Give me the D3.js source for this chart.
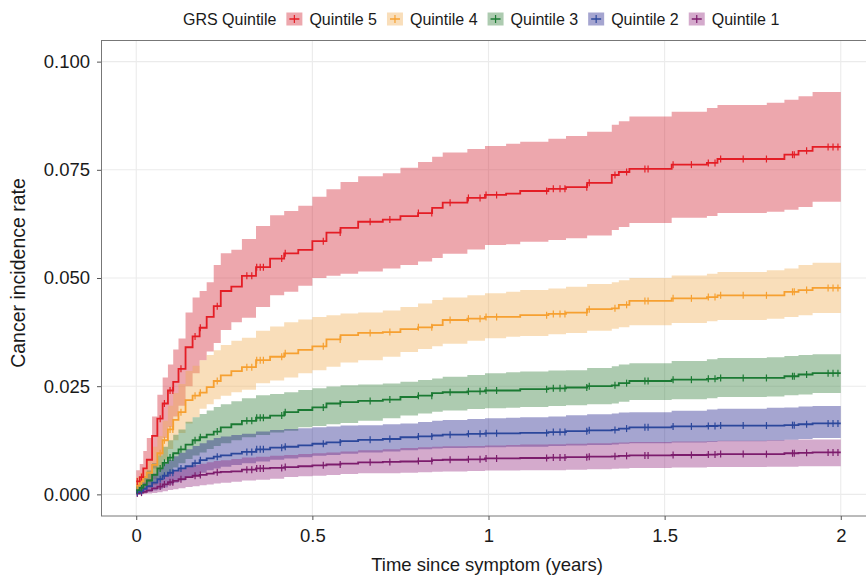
<!DOCTYPE html>
<html>
<head>
<meta charset="utf-8">
<script src="https://cdn.jsdelivr.net/npm/d3@7"></script>
<style>
  body { margin: 0; background: #fff; }
  text { font-family: "Liberation Sans", Arial, Helvetica, sans-serif; fill: #1a1a1a; }
</style>
</head>
<body>
<div id="chart"></div>
<script>
// Time grid shared by all quintiles (years since symptom)
const times = [0, 0.01, 0.02, 0.03, 0.045, 0.06, 0.075, 0.09, 0.105, 0.12, 0.14, 0.16, 0.18, 0.2, 0.22, 0.24, 0.27, 0.3, 0.34, 0.38, 0.42, 0.46, 0.5, 0.54, 0.58, 0.63, 0.7, 0.75, 0.8, 0.84, 0.87, 0.94, 0.99, 1.05, 1.09, 1.17, 1.22, 1.28, 1.35, 1.37, 1.4, 1.52, 1.62, 1.65, 1.79, 1.84, 1.88, 1.92, 2.0];

// Quintile 5
const q5Est = [0.003, 0.004, 0.006, 0.008, 0.0135, 0.0175, 0.021, 0.024, 0.026, 0.029, 0.034, 0.0365, 0.0385, 0.041, 0.0435, 0.047, 0.048, 0.0505, 0.0525, 0.0545, 0.0557, 0.0565, 0.0585, 0.0605, 0.0616, 0.063, 0.0635, 0.0643, 0.065, 0.0662, 0.0674, 0.0685, 0.0692, 0.0695, 0.0701, 0.0706, 0.071, 0.072, 0.0738, 0.0745, 0.0752, 0.0762, 0.0766, 0.0775, 0.0775, 0.0785, 0.0794, 0.0803, 0.0803];
const q5Upper = [0.0056, 0.007, 0.01, 0.013, 0.018, 0.023, 0.027, 0.03, 0.0335, 0.036, 0.042, 0.0455, 0.047, 0.049, 0.053, 0.0557, 0.0565, 0.059, 0.062, 0.0645, 0.0655, 0.0667, 0.0688, 0.0705, 0.0722, 0.0735, 0.0742, 0.0755, 0.0768, 0.078, 0.079, 0.0798, 0.0805, 0.081, 0.0815, 0.0822, 0.0828, 0.0838, 0.0854, 0.0862, 0.0873, 0.0884, 0.0893, 0.09, 0.0905, 0.0912, 0.092, 0.093, 0.093];
const q5Lower = [0.001, 0.0015, 0.002, 0.003, 0.006, 0.009, 0.013, 0.0155, 0.018, 0.0205, 0.025, 0.028, 0.031, 0.033, 0.035, 0.038, 0.0398, 0.0408, 0.0433, 0.046, 0.0468, 0.0482, 0.05, 0.0505, 0.051, 0.0515, 0.0522, 0.053, 0.0538, 0.0546, 0.0556, 0.0566, 0.0576, 0.0578, 0.0584, 0.0588, 0.0592, 0.0598, 0.0611, 0.0618, 0.0627, 0.0639, 0.0643, 0.065, 0.0653, 0.0658, 0.0664, 0.0676, 0.0676];

// Quintile 4
const q4Est = [0.002, 0.003, 0.004, 0.005, 0.0068, 0.0095, 0.0125, 0.015, 0.0172, 0.019, 0.0218, 0.0228, 0.0235, 0.0248, 0.0262, 0.0275, 0.0285, 0.0294, 0.031, 0.0318, 0.0326, 0.0334, 0.0342, 0.0358, 0.0368, 0.0373, 0.0375, 0.0382, 0.0386, 0.0391, 0.0403, 0.0406, 0.041, 0.041, 0.0414, 0.0417, 0.042, 0.0428, 0.043, 0.0438, 0.0447, 0.0453, 0.0456, 0.046, 0.046, 0.0468, 0.0472, 0.0477, 0.0477];
const q4Upper = [0.004, 0.005, 0.006, 0.008, 0.011, 0.0135, 0.017, 0.0205, 0.0234, 0.0255, 0.0285, 0.0297, 0.031, 0.0322, 0.0333, 0.0345, 0.0355, 0.0362, 0.0378, 0.0388, 0.0398, 0.0404, 0.041, 0.0414, 0.0418, 0.042, 0.0425, 0.0433, 0.0441, 0.0449, 0.0455, 0.046, 0.0465, 0.0468, 0.0472, 0.0476, 0.048, 0.0486, 0.049, 0.0495, 0.05, 0.0506, 0.051, 0.0514, 0.0518, 0.0522, 0.053, 0.0535, 0.0535];
const q4Lower = [0.0005, 0.001, 0.0015, 0.0025, 0.0035, 0.0055, 0.008, 0.0105, 0.0125, 0.0142, 0.0164, 0.0178, 0.0198, 0.0208, 0.022, 0.0228, 0.0236, 0.0242, 0.0257, 0.0263, 0.027, 0.028, 0.0287, 0.0295, 0.0305, 0.031, 0.0318, 0.0329, 0.0336, 0.0342, 0.0348, 0.0355, 0.0361, 0.0364, 0.0366, 0.037, 0.0373, 0.0378, 0.0383, 0.0386, 0.0391, 0.0396, 0.04, 0.0403, 0.0406, 0.041, 0.0414, 0.0419, 0.0419];

// Quintile 3
const q3Est = [0.001, 0.0015, 0.0022, 0.0032, 0.0045, 0.006, 0.0073, 0.0085, 0.0095, 0.0104, 0.0115, 0.0125, 0.0132, 0.0138, 0.0145, 0.0155, 0.0162, 0.017, 0.0177, 0.0182, 0.019, 0.0195, 0.0201, 0.021, 0.0213, 0.0216, 0.0219, 0.0225, 0.0228, 0.0234, 0.0236, 0.0238, 0.024, 0.024, 0.0243, 0.0245, 0.0247, 0.025, 0.0252, 0.0257, 0.0262, 0.0265, 0.0267, 0.0269, 0.0269, 0.0273, 0.0277, 0.028, 0.028];
const q3Upper = [0.0023, 0.003, 0.0042, 0.0055, 0.0072, 0.009, 0.011, 0.0125, 0.0138, 0.015, 0.0168, 0.0178, 0.0186, 0.0194, 0.0202, 0.0208, 0.0215, 0.0222, 0.0229, 0.0232, 0.0236, 0.0241, 0.0245, 0.0249, 0.0252, 0.0254, 0.0256, 0.026, 0.0264, 0.0268, 0.0272, 0.0276, 0.028, 0.0282, 0.0284, 0.0286, 0.0287, 0.0292, 0.0296, 0.03, 0.0303, 0.0308, 0.0312, 0.0315, 0.0317, 0.032, 0.0322, 0.0324, 0.0324];
const q3Lower = [0.0002, 0.0005, 0.001, 0.0015, 0.0022, 0.0032, 0.0042, 0.0052, 0.0062, 0.0072, 0.0082, 0.009, 0.0097, 0.0105, 0.0112, 0.0118, 0.0125, 0.0132, 0.0137, 0.0143, 0.0147, 0.0155, 0.0158, 0.0162, 0.0165, 0.017, 0.0176, 0.0182, 0.0187, 0.0191, 0.0194, 0.0197, 0.0199, 0.02, 0.0202, 0.0204, 0.0206, 0.0208, 0.021, 0.0214, 0.0218, 0.022, 0.0222, 0.0225, 0.0226, 0.0229, 0.0231, 0.0234, 0.0234];

// Quintile 2
const q2Est = [0.0005, 0.0008, 0.0013, 0.0019, 0.0027, 0.0035, 0.0043, 0.005, 0.0055, 0.006, 0.0065, 0.0072, 0.0079, 0.0083, 0.0087, 0.009, 0.0094, 0.0098, 0.0104, 0.0108, 0.011, 0.0113, 0.0117, 0.012, 0.0123, 0.0126, 0.0128, 0.0132, 0.0134, 0.0136, 0.0138, 0.014, 0.0141, 0.0141, 0.0142, 0.0144, 0.0146, 0.0148, 0.0149, 0.0152, 0.0155, 0.0157, 0.0158, 0.0159, 0.0159, 0.016, 0.0162, 0.0164, 0.0164];
const q2Upper = [0.0012, 0.0018, 0.0027, 0.0035, 0.0048, 0.006, 0.007, 0.008, 0.0088, 0.0096, 0.0104, 0.0112, 0.0118, 0.0125, 0.013, 0.0134, 0.0137, 0.014, 0.0145, 0.0149, 0.0151, 0.0153, 0.0155, 0.0157, 0.0159, 0.016, 0.0162, 0.0164, 0.0167, 0.017, 0.0172, 0.0174, 0.0176, 0.0177, 0.0178, 0.018, 0.0183, 0.0185, 0.0187, 0.0189, 0.019, 0.0193, 0.0196, 0.0198, 0.02, 0.0201, 0.0203, 0.0204, 0.0204];
const q2Lower = [0.0001, 0.0002, 0.0004, 0.0006, 0.0009, 0.0012, 0.0016, 0.0022, 0.0027, 0.0032, 0.004, 0.0045, 0.005, 0.0056, 0.006, 0.0064, 0.0068, 0.0072, 0.0076, 0.008, 0.0083, 0.0086, 0.0089, 0.0091, 0.0094, 0.0097, 0.0099, 0.0102, 0.0104, 0.0106, 0.0107, 0.0108, 0.0109, 0.011, 0.011, 0.0112, 0.0113, 0.0114, 0.0115, 0.0117, 0.0118, 0.012, 0.0121, 0.0123, 0.0124, 0.0126, 0.0128, 0.013, 0.013];

// Quintile 1
const q1Est = [0.0002, 0.0004, 0.0006, 0.0009, 0.0014, 0.0018, 0.0023, 0.0028, 0.0031, 0.0035, 0.004, 0.0043, 0.0045, 0.0048, 0.0051, 0.0052, 0.0053, 0.0057, 0.006, 0.0061, 0.0063, 0.0065, 0.0067, 0.0069, 0.0071, 0.0074, 0.0075, 0.0076, 0.0077, 0.0079, 0.008, 0.0081, 0.0083, 0.0083, 0.0084, 0.0085, 0.0086, 0.0087, 0.0088, 0.0089, 0.009, 0.0091, 0.0092, 0.0093, 0.0093, 0.0095, 0.0096, 0.0097, 0.0097];
const q1Upper = [0.0006, 0.001, 0.0016, 0.0022, 0.0028, 0.0036, 0.0043, 0.005, 0.0055, 0.006, 0.0064, 0.0068, 0.0071, 0.0074, 0.0077, 0.0079, 0.0082, 0.0085, 0.0087, 0.0089, 0.0091, 0.0093, 0.0095, 0.0097, 0.0099, 0.0102, 0.0104, 0.0107, 0.0109, 0.011, 0.0111, 0.0112, 0.0113, 0.0114, 0.0115, 0.0116, 0.0117, 0.0118, 0.0119, 0.012, 0.0121, 0.0122, 0.0123, 0.0124, 0.0125, 0.0126, 0.0127, 0.0127, 0.0127];
const q1Lower = [0, 0, 0.0001, 0.0002, 0.0003, 0.0005, 0.0007, 0.001, 0.0012, 0.0014, 0.0017, 0.0019, 0.0021, 0.0023, 0.0025, 0.0027, 0.0029, 0.0032, 0.0034, 0.0036, 0.004, 0.0042, 0.0043, 0.0045, 0.0047, 0.0049, 0.0049, 0.005, 0.0051, 0.0052, 0.0053, 0.0054, 0.0055, 0.0055, 0.0056, 0.0056, 0.0057, 0.0058, 0.0059, 0.006, 0.0061, 0.0062, 0.0063, 0.0063, 0.0064, 0.0064, 0.0065, 0.0065, 0.0065];

// Censoring times (+ marks)
const censorTimes = [0.003, 0.015, 0.068, 0.08, 0.096, 0.104, 0.127, 0.167, 0.182, 0.23, 0.314, 0.328, 0.342, 0.352, 0.361, 0.413, 0.423, 0.531, 0.579, 0.664, 0.72, 0.801, 0.839, 0.891, 0.943, 0.976, 0.993, 1.023, 1.165, 1.184, 1.203, 1.217, 1.279, 1.286, 1.359, 1.392, 1.444, 1.453, 1.524, 1.576, 1.624, 1.643, 1.659, 1.723, 1.789, 1.863, 1.868, 1.903, 1.964, 1.978, 1.992];

const groupNames = ["Quintile 5", "Quintile 4", "Quintile 3", "Quintile 2", "Quintile 1"];
const lineColors = ["#e41d25", "#f6a031", "#1b7a33", "#2b479b", "#7c1c6c"];
const bandColors = ["#d22332", "#f0ac52", "#327d39", "#1e1e8a", "#942a80"];
const xTicks = [0, 0.5, 1, 1.5, 2];
const yTicks = [0, 0.025, 0.05, 0.075, 0.1];

const series = [
  { est: q5Est, lo: q5Lower, hi: q5Upper },
  { est: q4Est, lo: q4Lower, hi: q4Upper },
  { est: q3Est, lo: q3Lower, hi: q3Upper },
  { est: q2Est, lo: q2Lower, hi: q2Upper },
  { est: q1Est, lo: q1Lower, hi: q1Upper },
].map((s, i) => ({
  name: groupNames[i],
  color: lineColors[i],
  band: bandColors[i],
  points: times.map((t, j) => ({ t: t, est: s.est[j], lo: s.lo[j], hi: s.hi[j] })),
}));

const width = 866;
const height = 575;
const panel = { left: 101, top: 40, right: 876, bottom: 516 };

const svg = d3.select("#chart").append("svg").attr("width", width).attr("height", height);

const x = d3.scaleLinear().domain([-0.1, 2.1]).range([panel.left, panel.right]);
const y = d3.scaleLinear().domain([-0.005, 0.105]).range([panel.bottom, panel.top]);

// Grid lines
const grid = svg.append("g");
grid.selectAll(".gx").data(xTicks).enter().append("line")
  .attr("x1", (d) => x(d)).attr("x2", (d) => x(d))
  .attr("y1", panel.top).attr("y2", panel.bottom)
  .attr("stroke", "#ebebeb").attr("stroke-width", 1.1);
grid.selectAll(".gy").data(yTicks).enter().append("line")
  .attr("x1", panel.left).attr("x2", panel.right)
  .attr("y1", (d) => y(d)).attr("y2", (d) => y(d))
  .attr("stroke", "#ebebeb").attr("stroke-width", 1.1);

// Confidence bands
const area = d3.area()
  .curve(d3.curveStepAfter)
  .x((d) => x(d.t))
  .y0((d) => y(d.lo))
  .y1((d) => y(d.hi));

svg.append("g").selectAll("path").data(series).enter().append("path")
  .attr("d", (d) => area(d.points))
  .attr("fill", (d) => d.band)
  .attr("fill-opacity", 0.4);

// Step lines
const line = d3.line()
  .curve(d3.curveStepAfter)
  .x((d) => x(d.t))
  .y((d) => y(d.est));

svg.append("g").selectAll("path").data(series.slice().reverse()).enter().append("path")
  .attr("d", (d) => line(d.points))
  .attr("fill", "none")
  .attr("stroke", (d) => d.color)
  .attr("stroke-width", 1.8);

// Censoring marks
const bisect = d3.bisector((d) => d.t).right;
const marks = svg.append("g");
series.slice().reverse().forEach((s) => {
  marks.selectAll(null).data(censorTimes).enter().append("line")
    .attr("x1", (t) => x(t)).attr("x2", (t) => x(t))
    .attr("y1", (t) => y(s.points[bisect(s.points, t) - 1].est) - 3.5)
    .attr("y2", (t) => y(s.points[bisect(s.points, t) - 1].est) + 3.5)
    .attr("stroke", s.color)
    .attr("stroke-width", 1.2);
});

// Panel border
svg.append("rect")
  .attr("x", panel.left + 0.5).attr("y", panel.top + 0.5)
  .attr("width", panel.right - panel.left).attr("height", panel.bottom - panel.top - 0.5)
  .attr("fill", "none").attr("stroke", "#777").attr("stroke-width", 1);

// Axes
const xAxis = svg.append("g")
  .attr("transform", `translate(0,${panel.bottom})`)
  .call(d3.axisBottom(x).tickValues(xTicks).tickFormat((d) => String(d)).tickSize(4).tickPadding(6));
const yAxis = svg.append("g")
  .attr("transform", `translate(${panel.left},0)`)
  .call(d3.axisLeft(y).tickValues(yTicks).tickFormat(d3.format(".3f")).tickSize(4).tickPadding(7));

[xAxis, yAxis].forEach((a) => {
  a.select(".domain").remove();
  a.selectAll(".tick line").attr("stroke", "#555");
  a.selectAll(".tick text").attr("font-size", 18.5).attr("fill", "#1a1a1a")
    .attr("font-family", "Liberation Sans, Arial, sans-serif");
});
xAxis.selectAll(".tick text").attr("dy", "0.85em");

// Axis titles
svg.append("text")
  .attr("x", 487).attr("y", 571)
  .attr("text-anchor", "middle")
  .attr("font-size", 18.5)
  .text("Time since symptom (years)");

svg.append("text")
  .attr("transform", "translate(25,273) rotate(-90)")
  .attr("text-anchor", "middle")
  .attr("font-size", 19.5)
  .text("Cancer incidence rate");

// Legend
const legend = svg.append("g");
let lx = 183;
const ly = 19;
const title = legend.append("text")
  .attr("x", lx).attr("y", ly).attr("dy", "0.35em")
  .attr("font-size", 16)
  .text("GRS Quintile");
lx += title.node().getComputedTextLength() + 10;

series.forEach((s) => {
  const g = legend.append("g").attr("transform", `translate(${lx},0)`);
  g.append("rect")
    .attr("x", 0).attr("y", ly - 6.5).attr("width", 16).attr("height", 13)
    .attr("fill", s.band).attr("fill-opacity", 0.4);
  g.append("line")
    .attr("x1", 3).attr("x2", 13).attr("y1", ly).attr("y2", ly)
    .attr("stroke", s.color).attr("stroke-width", 1.5);
  g.append("line")
    .attr("x1", 8).attr("x2", 8).attr("y1", ly - 4).attr("y2", ly + 4)
    .attr("stroke", s.color).attr("stroke-width", 1.2);
  const label = g.append("text")
    .attr("x", 23).attr("y", ly).attr("dy", "0.35em")
    .attr("font-size", 16)
    .text(s.name);
  lx += 23 + label.node().getComputedTextLength() + 10;
});
</script>
</body>
</html>
